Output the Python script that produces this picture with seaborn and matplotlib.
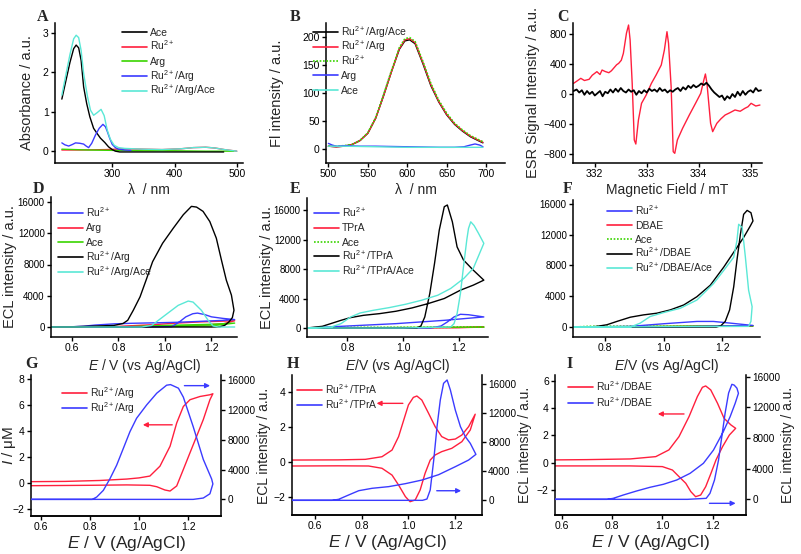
import matplotlib
matplotlib.use('Agg')
import matplotlib.pyplot as plt
from matplotlib.lines import Line2D
import seaborn as sns

# ── colours ──
BLACK = '#000000'
RED   = '#ff1f3d'
GREEN = '#3ad400'
BLUE  = '#3b3bff'
CYAN  = '#5ae8d6'

# ── A: absorbance ──
A_RED_X   = [219, 250, 290, 320, 350, 380, 410, 430, 450, 465, 480, 500]
A_RED_Y   = [0.03, 0.03, 0.04, 0.06, 0.05, 0.04, 0.06, 0.09, 0.1, 0.08, 0.04, 0.0]
A_GREEN_X = [219, 260, 300, 350, 400, 450, 495]
A_GREEN_Y = [0.05, 0.03, 0.02, 0.01, 0.01, 0.0, 0.0]
A_ACE_X   = [219, 225, 232, 238, 242, 246, 250, 254, 259, 264, 270, 276, 281, 288, 294, 300, 305, 312, 330, 400, 479]
A_ACE_Y   = [1.32, 1.75, 2.25, 2.6, 2.69, 2.62, 2.3, 1.63, 1.2, 0.87, 0.58, 0.44, 0.33, 0.22, 0.11, 0.04, 0.0, -0.02, -0.02, -0.02, -0.02]
A_BLUE_X  = [219, 224, 230, 236, 241, 248, 254, 258, 262, 267, 273, 279, 285, 289, 292, 296, 300, 305, 310, 320, 330]
A_BLUE_Y  = [0.21, 0.16, 0.13, 0.17, 0.21, 0.2, 0.18, 0.13, 0.09, 0.2, 0.41, 0.58, 0.68, 0.62, 0.5, 0.32, 0.17, 0.09, 0.05, 0.03, 0.02]
A_CYAN_X  = [219, 225, 232, 238, 242, 246, 250, 254, 260, 265, 270, 276, 282, 287, 292, 297, 303, 310, 320, 350, 380, 410, 430, 450, 465, 480, 500]
A_CYAN_Y  = [1.42, 1.9, 2.45, 2.85, 2.94, 2.88, 2.55, 1.97, 1.4, 1.04, 0.91, 0.98, 1.06, 0.9, 0.53, 0.3, 0.15, 0.09, 0.07, 0.05, 0.04, 0.06, 0.09, 0.1, 0.08, 0.04, 0.0]

# ── B: fluorescence ──
B_X      = [500, 510, 520, 530, 540, 550, 560, 570, 580, 590, 597, 603, 610, 620, 630, 640, 650, 660, 670, 680, 690, 696]
B_BLACK  = [5, 4, 5, 8, 15, 28, 55, 95, 138, 178, 193, 195, 188, 152, 113, 84, 61, 44, 32, 22, 15, 11]
B_RED    = [5, 4, 5, 8, 15, 28, 55, 95, 138, 179, 195, 197, 190, 154, 115, 85, 62, 45, 33, 23, 16, 12]
B_GREEN  = [5, 5, 6, 8, 15, 29, 56, 97, 140, 181, 197, 199, 192, 156, 117, 87, 64, 46, 34, 24, 17, 13]
B_BLUE_X = [500, 505, 510, 520, 540, 560, 600, 640, 660, 672, 680, 686, 692, 696]
B_BLUE_Y = [10, 7, 5, 6, 5, 5, 4, 3, 3, 4, 7, 9, 7, 4]
B_CYAN_X = [500, 520, 560, 600, 650, 696]
B_CYAN_Y = [5, 5, 4, 3, 3, 3]

# ── C: ESR ──
C_RED_X = [331.59, 331.65, 331.73, 331.8, 331.89, 331.95, 332.04, 332.1, 332.14, 332.2, 332.27, 332.32,
           332.36, 332.42, 332.46, 332.51, 332.55, 332.61, 332.65, 332.68, 332.72, 332.76, 332.79, 332.84,
           332.9, 332.99, 333.09, 333.18, 333.28, 333.34, 333.39, 333.42, 333.47, 333.51, 333.54, 333.59,
           333.69, 333.82, 333.94, 334.04, 334.1, 334.13, 334.16, 334.23, 334.27, 334.35, 334.43, 334.51,
           334.6, 334.7, 334.8, 334.89, 334.95, 335.01, 335.1, 335.18]
C_RED_Y = [142, 170, 209, 180, 196, 250, 298, 260, 320, 300, 284, 310,
           342, 390, 409, 450, 542, 813, 920, 720, 142, -613, -667, -347,
           -124, -13, 142, 253, 387, 587, 831, 676, 98, -769, -791, -613,
           -458, -280, -124, 9, 187, 267, 142, -391, -502, -391, -330, -280,
           -250, -213, -230, -191, -170, -124, -160, -147]
C_BLACK_X = [331.59, 331.65, 331.7, 331.75, 331.8, 331.85, 331.9, 331.95, 332.0, 332.05, 332.1, 332.15,
             332.2, 332.25, 332.3, 332.35, 332.4, 332.45, 332.5, 332.55, 332.6, 332.65, 332.7, 332.75,
             332.8, 332.85, 332.9, 332.95, 333.0, 333.05, 333.1, 333.15, 333.2, 333.25, 333.3, 333.35,
             333.4, 333.45, 333.5, 333.55, 333.6, 333.65, 333.7, 333.75, 333.8, 333.85, 333.9, 333.95,
             334.0, 334.05, 334.1, 334.15, 334.2, 334.25, 334.3, 334.35, 334.4, 334.45, 334.5, 334.55,
             334.6, 334.65, 334.7, 334.75, 334.8, 334.85, 334.9, 334.95, 335.0, 335.05, 335.1, 335.15, 335.2]
C_BLACK_Y = [40, 60, 20, 50, -10, 40, 0, 30, -20, 10, 40, -30,
             30, 10, 60, 20, 70, 30, 80, 40, 20, 60, 30, 50,
             -10, 40, 10, 50, 20, 70, 40, 60, 30, 80, 40, 60,
             20, 50, 30, 60, 80, 40, 90, 60, 110, 80, 120, 90,
             110, 140, 120, 150, 110, 60, 20, -10, -40, -20, -80, -30,
             -60, 0, -40, 30, -20, 40, -10, 30, 50, 20, 80, 40, 50]

# ── D: ECL, Arg ──
D_RED_X   = [0.51, 0.8, 0.95, 1.05, 1.15, 1.3, 1.25, 1.1, 0.9, 0.51]
D_RED_Y   = [0, 80, 300, 500, 650, 800, 400, 150, 50, 0]
D_GREEN_X = [0.51, 0.8, 1.0, 1.2, 1.3, 1.2, 1.0, 0.51]
D_GREEN_Y = [0, 0, 200, 350, 500, 150, 50, 0]
D_BLUE_X  = [0.51, 0.7, 0.9, 1.03, 1.06, 1.09, 1.12, 1.14, 1.17, 1.2, 1.25, 1.3, 1.25, 1.15, 1.05, 0.95, 0.85, 0.78, 0.7, 0.65, 0.6, 0.51]
D_BLUE_Y  = [0, 0, 0, 50, 600, 1300, 1700, 1780, 1600, 1300, 1100, 950, 850, 720, 600, 530, 470, 400, 250, 100, 30, 0]
D_BLACK_X = [0.51, 0.6, 0.7, 0.78, 0.82, 0.84, 0.864, 0.893, 0.919, 0.947, 0.99, 1.036, 1.079, 1.114, 1.136,
             1.164, 1.193, 1.221, 1.243, 1.264, 1.286, 1.297, 1.29, 1.275, 1.257, 1.236, 1.2, 1.0, 0.8, 0.51]
D_BLACK_Y = [0, 30, 120, 200, 450, 860, 2145, 3860, 6000, 8360, 10720, 12650, 14370, 15440, 15350,
             14800, 13500, 11370, 8580, 6000, 4080, 2145, 1200, 640, 210, 30, 0, 0, 0, 0]
D_CYAN_X  = [0.51, 0.9, 0.943, 1.0, 1.057, 1.1, 1.121, 1.157, 1.186, 1.207, 1.23, 1.3]
D_CYAN_Y  = [0, 0, 200, 1490, 2770, 3320, 3190, 2130, 850, 130, 0, 0]

# ── E: ECL, TPrA ──
E_RED_X   = [0.655, 1.0, 1.2, 1.29, 1.2, 0.655]
E_RED_Y   = [0, 30, 80, 120, 50, 0]
E_GREEN_X = [0.655, 0.8, 1.0, 1.2, 1.29, 1.0, 0.655]
E_GREEN_Y = [0, 80, 100, 120, 130, 60, 0]
E_BLUE_X  = [0.655, 0.8, 0.974, 1.148, 1.29, 1.235, 1.206, 1.183, 1.159, 1.136, 1.1, 0.655]
E_BLUE_Y  = [0, 270, 590, 1040, 1500, 1800, 1860, 1500, 820, 270, 0, 0]
E_BLACK_X = [0.655, 0.71, 0.74, 0.777, 0.81, 0.858, 0.916, 0.974, 1.032, 1.09, 1.148, 1.206, 1.252, 1.29,
             1.252, 1.217, 1.194, 1.177, 1.159, 1.148, 1.13, 1.113, 1.096, 1.078, 1.064, 1.049, 0.9, 0.655]
E_BLACK_Y = [0, 230, 590, 1040, 1400, 1720, 1950, 2270, 2720, 3310, 4000, 5130, 5810, 6490,
             7850, 9220, 11000, 14400, 16680, 16450, 13280, 8760, 4680, 1500, 270, 0, 0, 0]
E_CYAN_X  = [0.655, 0.742, 0.777, 0.812, 0.846, 0.893, 0.951, 1.009, 1.067, 1.125, 1.171, 1.218, 1.252, 1.29,
             1.27, 1.255, 1.243, 1.235, 1.229, 1.217, 1.206, 1.194, 1.183, 1.171, 1.0, 0.655]
E_CYAN_Y  = [0, 140, 590, 1500, 2040, 2400, 2770, 3220, 3770, 4450, 5360, 6720, 8080, 11480,
             12900, 13900, 14400, 13500, 12000, 8310, 4680, 1950, 590, 140, 0, 0]

# ── F: ECL, DBAE ──
F_RED_X   = [0.69, 0.9, 1.1, 1.306, 1.0, 0.69]
F_RED_Y   = [0, 50, 100, 150, 50, 0]
F_GREEN_X = [0.69, 0.75, 1.0, 1.306, 1.0, 0.69]
F_GREEN_Y = [0, 100, 120, 150, 80, 0]
F_BLUE_X  = [0.69, 0.886, 1.0, 1.114, 1.171, 1.229, 1.306, 1.0, 0.69]
F_BLUE_Y  = [0, 90, 430, 730, 730, 510, 210, 0, 0]
F_BLACK_X = [0.69, 0.743, 0.771, 0.806, 0.84, 0.886, 0.931, 0.977, 1.023, 1.069, 1.114, 1.16, 1.206, 1.24,
             1.274, 1.297, 1.306, 1.299, 1.286, 1.274, 1.263, 1.251, 1.24, 1.226, 1.211, 1.196, 1.18, 0.69]
F_BLACK_Y = [0, 0, 86, 300, 730, 1280, 1580, 1800, 2230, 2870, 3940, 5440, 7790, 9710,
             11640, 13140, 13780, 14850, 15150, 14640, 12070, 8650, 5220, 2230, 730, 170, 0, 0]
F_CYAN_X  = [0.69, 0.886, 0.92, 0.954, 1.0, 1.057, 1.114, 1.171, 1.206, 1.24, 1.251, 1.257, 1.269, 1.28,
             1.291, 1.303, 1.299, 1.291, 0.69]
F_CYAN_Y  = [0, 0, 510, 1370, 1880, 2440, 3510, 5650, 7360, 9070, 11210, 13350, 12930, 9070,
             4790, 2650, 730, 90, 0]

# ── G: CV + ECL, Arg ──
G_CV_X  = [0.561, 0.7, 0.84, 0.95, 1.0, 1.044, 1.085, 1.126, 1.153, 1.18, 1.207, 1.248, 1.288, 1.30,
           1.288, 1.261, 1.234, 1.207, 1.18, 1.153, 1.126, 1.105, 1.072, 1.044, 0.95, 0.8, 0.561]
G_CV_Y  = [0.13, 0.15, 0.22, 0.33, 0.42, 0.56, 1.32, 2.85, 4.64, 5.91, 6.43, 6.68, 6.81, 6.89,
           6.43, 4.9, 3.62, 2.35, 1.07, -0.2, -0.59, -0.51, -0.26, -0.15, -0.12, -0.15, -0.18]
G_ECL_X = [0.561, 0.7, 0.81, 0.828, 0.855, 0.882, 0.909, 0.936, 0.963, 0.99, 1.031, 1.072, 1.112, 1.128,
           1.16, 1.18, 1.22, 1.261, 1.295, 1.30, 1.288, 1.261, 1.22, 0.561]
G_ECL_Y = [0, 0, 0, 314, 1210, 2780, 4580, 6820, 9070, 10870, 12660, 14230, 15300, 15380,
           14900, 13700, 9750, 5360, 2730, 2070, 750, 180, 0, 0]

# ── H: CV + ECL, TPrA ──
H_CV_X  = [0.503, 0.7, 0.816, 0.887, 0.93, 0.958, 0.98, 1.0, 1.021, 1.036, 1.057, 1.086, 1.114, 1.142, 1.171,
           1.2, 1.228, 1.257, 1.285, 1.264, 1.228, 1.185, 1.142, 1.114, 1.093, 1.071, 1.05, 1.029, 1.007,
           0.987, 0.958, 0.93, 0.887, 0.83, 0.7, 0.503]
H_CV_Y  = [0.13, 0.14, 0.17, 0.32, 0.7, 1.47, 2.42, 3.28, 3.71, 3.79, 3.56, 2.8, 2.04, 1.47, 1.28,
           1.33, 1.56, 2.04, 2.75, 1.85, 1.18, 0.8, 0.61, 0.42, 0.13, -0.63, -1.58, -2.15, -2.25,
           -1.96, -1.3, -0.73, -0.34, -0.21, -0.2, -0.21]
H_ECL_X = [0.503, 0.674, 0.702, 0.745, 0.788, 0.845, 0.916, 0.987, 1.058, 1.129, 1.2, 1.257, 1.288, 1.264,
           1.243, 1.222, 1.2, 1.179, 1.165, 1.15, 1.136, 1.122, 1.108, 1.093, 1.079, 1.06, 0.503]
H_ECL_Y = [0, 0, 140, 740, 1330, 1660, 1890, 2300, 2800, 3540, 4640, 5560, 6340, 7860,
           8780, 10160, 12460, 15220, 16600, 16140, 13840, 10160, 5560, 1430, 180, 0, 0]

# ── I: CV + ECL, DBAE ──
I_CV_X  = [0.574, 0.7, 0.872, 0.974, 1.026, 1.066, 1.106, 1.139, 1.159, 1.172, 1.192, 1.219, 1.245, 1.272, 1.291,
           1.266, 1.239, 1.213, 1.193, 1.172, 1.152, 1.132, 1.113, 1.093, 1.066, 1.04, 1.0, 0.872, 0.574]
I_CV_Y  = [0.2, 0.22, 0.27, 0.44, 0.93, 1.9, 3.37, 4.83, 5.51, 5.61, 5.32, 4.34, 3.24, 2.76, 2.51,
           2.02, 1.17, 0.2, -0.78, -1.76, -2.37, -2.49, -2.12, -1.51, -1.02, -0.54, -0.29, -0.24, -0.24]
I_ECL_X = [0.574, 0.78, 0.805, 0.845, 0.898, 0.951, 1.004, 1.057, 1.11, 1.163, 1.203, 1.242, 1.269, 1.289, 1.302,
           1.296, 1.285, 1.276, 1.263, 1.249, 1.236, 1.223, 1.207, 1.189, 1.174, 1.1, 0.574]
I_ECL_Y = [0, 0, 130, 565, 1090, 1570, 1960, 2520, 3390, 4700, 6430, 8830, 10780, 12520, 13830,
           14500, 14900, 15000, 13870, 11220, 8170, 5130, 2520, 780, 130, 0, 0]

ECL_TICKS = [0, 4000, 8000, 12000, 16000]

sns.set_theme(style='ticks')
plt.rcParams['font.family'] = ['Liberation Sans', 'DejaVu Sans']
plt.rcParams['mathtext.fontset'] = 'custom'
plt.rcParams['mathtext.rm'] = 'Liberation Sans'
plt.rcParams['mathtext.it'] = 'Liberation Sans:italic'
plt.rcParams['axes.linewidth'] = 1.1
plt.rcParams['axes.edgecolor'] = 'black'

W, H = 801, 554
fig = plt.figure(figsize=(W / 100, H / 100), dpi=100)


def panel(l, t, r, b):
    ax = fig.add_axes([l / W, 1 - b / H, (r - l) / W, (b - t) / H])
    ax.spines['top'].set_visible(False)
    ax.spines['right'].set_visible(False)
    ax.tick_params(direction='out', length=3, width=1, labelsize=7.5, pad=1.5, colors='black')
    return ax


def place_ylabel(ax, text, x_px, l, r, fs=10.5):
    # x_px = right edge of the rotated label, in figure pixels
    ax.set_ylabel(text, fontsize=fs)
    ax.yaxis.set_label_coords((x_px - l) / (r - l), 0.5)


def line(ax, xs, ys, c, ls='-', lw=1.0):
    sns.lineplot(x=xs, y=ys, ax=ax, color=c, lw=lw, linestyle=ls,
                 sort=False, estimator=None, legend=False)


def legend(items, x, y, dy, fs=7.5, hl=25):
    # hand-built key: one short line + text per row, rows dy pixels apart
    for i, (c, ls, t) in enumerate(items):
        yy = y + i * dy
        fig.add_artist(Line2D([x / W, (x + hl) / W], [1 - yy / H] * 2, color=c, lw=1.2, ls=ls))
        fig.text((x + hl + 3) / W, 1 - (yy + 3.7) / H, t, fontsize=fs, va='baseline', ha='left')


def letter(x, y, s):
    fig.text(x / W, 1 - y / H, s, family='Liberation Serif', weight='bold',
             fontsize=11.5, va='top', ha='left')


RU = 'Ru$^{2+}$'
DOT = (0, (1, 1))

# ── A ──
ax = panel(55, 23, 243, 163)
line(ax, A_RED_X, A_RED_Y, RED)
line(ax, A_GREEN_X, A_GREEN_Y, GREEN)
line(ax, A_ACE_X, A_ACE_Y, BLACK)
line(ax, A_BLUE_X, A_BLUE_Y, BLUE)
line(ax, A_CYAN_X, A_CYAN_Y, CYAN)
ax.set_xlim(208, 510); ax.set_ylim(-0.3, 3.25)
ax.set_xticks([300, 400, 500]); ax.set_yticks([0, 1, 2, 3])
ax.set_xlabel('λ  / nm', fontsize=10, labelpad=3)
place_ylabel(ax, 'Absorbance / a.u.', 34, 55, 243)
legend([(BLACK, '-', 'Ace'), (RED, '-', RU), (GREEN, '-', 'Arg'),
        (BLUE, '-', RU + '/Arg'), (CYAN, '-', RU + '/Arg/Ace')], 122, 32, 14.7)

# ── B ──
ax = panel(326, 23, 505, 163)
line(ax, B_X, B_BLACK, BLACK)
line(ax, B_X, B_RED, RED)
line(ax, B_X, B_GREEN, GREEN, ls=DOT, lw=1.2)
line(ax, B_BLUE_X, B_BLUE_Y, BLUE)
line(ax, B_CYAN_X, B_CYAN_Y, CYAN)
ax.set_xlim(497, 724); ax.set_ylim(-25, 225)
ax.set_xticks([500, 550, 600, 650, 700]); ax.set_yticks([0, 50, 100, 150, 200])
ax.set_xlabel('λ  / nm', fontsize=10, labelpad=3)
place_ylabel(ax, 'Fl intensity / a.u.', 284, 326, 505)
legend([(BLACK, '-', RU + '/Arg/Ace'), (RED, '-', RU + '/Arg'), (GREEN, DOT, RU),
        (BLUE, '-', 'Arg'), (CYAN, '-', 'Ace')], 313, 32, 14.5)

# ── C ──
ax = panel(573, 23, 762, 163)
line(ax, C_RED_X, C_RED_Y, RED)
line(ax, C_BLACK_X, C_BLACK_Y, BLACK, lw=1.3)
ax.set_xlim(331.58, 335.22); ax.set_ylim(-920, 947)
ax.set_xticks([332, 333, 334, 335]); ax.set_yticks([-800, -400, 0, 400, 800])
ax.set_xlabel('Magnetic Field / mT', fontsize=10, labelpad=3)
place_ylabel(ax, 'ESR Signal Intensity / a.u.', 540, 573, 762)

# ── D ──
ax = panel(51, 197, 237, 337)
line(ax, D_RED_X, D_RED_Y, RED)
line(ax, D_GREEN_X, D_GREEN_Y, GREEN)
line(ax, D_BLUE_X, D_BLUE_Y, BLUE)
line(ax, D_BLACK_X, D_BLACK_Y, BLACK)
line(ax, D_CYAN_X, D_CYAN_Y, CYAN)
ax.set_xlim(0.51, 1.31); ax.set_ylim(-1280, 16640)
ax.set_xticks([0.6, 0.8, 1.0, 1.2]); ax.set_yticks(ECL_TICKS)
ax.tick_params(axis='y', labelsize=7)
ax.set_xlabel('$E$ / V (vs Ag/AgCl)', fontsize=10, labelpad=3)
place_ylabel(ax, 'ECL intensity / a.u.', 17, 51, 237)
legend([(BLUE, '-', RU), (RED, '-', 'Arg'), (GREEN, '-', 'Ace'),
        (BLACK, '-', RU + '/Arg'), (CYAN, '-', RU + '/Arg/Ace')], 58, 213, 14.7)

# ── E ──
ax = panel(307, 198, 488, 337)
line(ax, E_RED_X, E_RED_Y, RED)
line(ax, E_GREEN_X, E_GREEN_Y, GREEN, ls=DOT, lw=1.2)
line(ax, E_BLUE_X, E_BLUE_Y, BLUE)
line(ax, E_BLACK_X, E_BLACK_Y, BLACK)
line(ax, E_CYAN_X, E_CYAN_Y, CYAN)
ax.set_xlim(0.655, 1.305); ax.set_ylim(-1220, 17630)
ax.set_xticks([0.8, 1.0, 1.2]); ax.set_yticks(ECL_TICKS)
ax.tick_params(axis='y', labelsize=7)
ax.set_xlabel('$E$/V (vs Ag/AgCl)', fontsize=10, labelpad=3)
place_ylabel(ax, 'ECL intensity / a.u.', 274, 307, 488)
legend([(BLUE, '-', RU), (RED, '-', 'TPrA'), (GREEN, DOT, 'Ace'),
        (BLACK, '-', RU + '/TPrA'), (CYAN, '-', RU + '/TPrA/Ace')], 314, 213, 14.5)

# ── F ──
ax = panel(573, 200, 760, 337)
line(ax, F_RED_X, F_RED_Y, RED)
line(ax, F_GREEN_X, F_GREEN_Y, GREEN, ls=DOT, lw=1.2)
line(ax, F_BLUE_X, F_BLUE_Y, BLUE)
line(ax, F_BLACK_X, F_BLACK_Y, BLACK)
line(ax, F_CYAN_X, F_CYAN_Y, CYAN)
ax.set_xlim(0.69, 1.33); ax.set_ylim(-1290, 16500)
ax.set_xticks([0.8, 1.0, 1.2]); ax.set_yticks(ECL_TICKS)
ax.tick_params(axis='y', labelsize=7)
ax.set_xlabel('$E$/V (vs Ag/AgCl)', fontsize=10, labelpad=3)
legend([(BLUE, '-', RU), (RED, '-', 'DBAE'), (GREEN, DOT, 'Ace'),
        (BLACK, '-', RU + '/DBAE'), (CYAN, '-', RU + '/DBAE/Ace')], 607, 211, 14.2)


# ── G / H / I ──
def dual(l, t, r, b, cvx, cvy, eclx, ecly, xlim, ylim, ylim2, yticks, label, arrows, leg_xy, rlab_px):
    ax = panel(l, t, r, b)
    ax2 = ax.twinx()
    ax2.spines['top'].set_visible(False)
    ax2.spines['left'].set_visible(False)
    ax2.tick_params(direction='out', length=3, width=1, labelsize=7.2, pad=1.5, colors='black')
    line(ax, cvx, cvy, RED)
    line(ax2, eclx, ecly, BLUE)
    ax.set_xlim(*xlim); ax.set_ylim(*ylim); ax2.set_ylim(*ylim2)
    ax.set_xticks([0.6, 0.8, 1.0, 1.2]); ax.set_yticks(yticks); ax2.set_yticks(ECL_TICKS)
    ax.set_xlabel('$E$ / V (Ag/AgCl)', fontsize=12.5, labelpad=1)
    ax2.set_ylabel('ECL intensity / a.u.', fontsize=10)
    ax2.yaxis.set_label_coords((rlab_px - l) / (r - l), 0.5)
    (rx0, rx1, ry), (bx0, bx1, by) = arrows
    ax.annotate('', xy=(rx1, ry), xytext=(rx0, ry),
                arrowprops=dict(arrowstyle='-|>', color=RED, lw=1.0, mutation_scale=7))
    ax2.annotate('', xy=(bx1, by), xytext=(bx0, by),
                 arrowprops=dict(arrowstyle='-|>', color=BLUE, lw=1.0, mutation_scale=7))
    legend([(RED, '-', RU + '/' + label), (BLUE, '-', RU + '/' + label)], *leg_xy)
    return ax


ax = dual(31, 375, 221, 516, G_CV_X, G_CV_Y, G_ECL_X, G_ECL_Y, (0.561, 1.333), (-2.51, 8.33),
          (-2227, 16667), [-2, 0, 2, 4, 6, 8], 'Arg',
          ((1.146, 1.004, 4.5), (1.173, 1.30, 15240)), (62, 393, 15), 257)
place_ylabel(ax, '$I$ / μM', 18, 31, 221, fs=11)

dual(292, 375, 482, 515, H_CV_X, H_CV_Y, H_ECL_X, H_ECL_Y, (0.503, 1.314), (-3.01, 4.99),
     (-2023, 17287), [-2, 0, 2, 4], 'TPrA',
     ((0.988, 0.852, 3.37), (1.109, 1.237, 1324)), (297, 390, 15), 518)

dual(555, 375, 746, 515, I_CV_X, I_CV_Y, I_ECL_X, I_ECL_Y, (0.574, 1.332), (-3.83, 6.41),
     (-2043, 16217), [-2, 0, 2, 4, 6], 'DBAE',
     ((1.097, 0.971, 3.56), (1.176, 1.302, -520)), (568, 387, 16), 781)

for x, y, s in [(37, 9, 'A'), (290, 9, 'B'), (557, 9, 'C'), (33, 181, 'D'), (290, 181, 'E'),
                (563, 181, 'F'), (25, 356, 'G'), (287, 356, 'H'), (566, 356, 'I')]:
    letter(x, y, s)

fig.savefig('out.png', dpi=100)
